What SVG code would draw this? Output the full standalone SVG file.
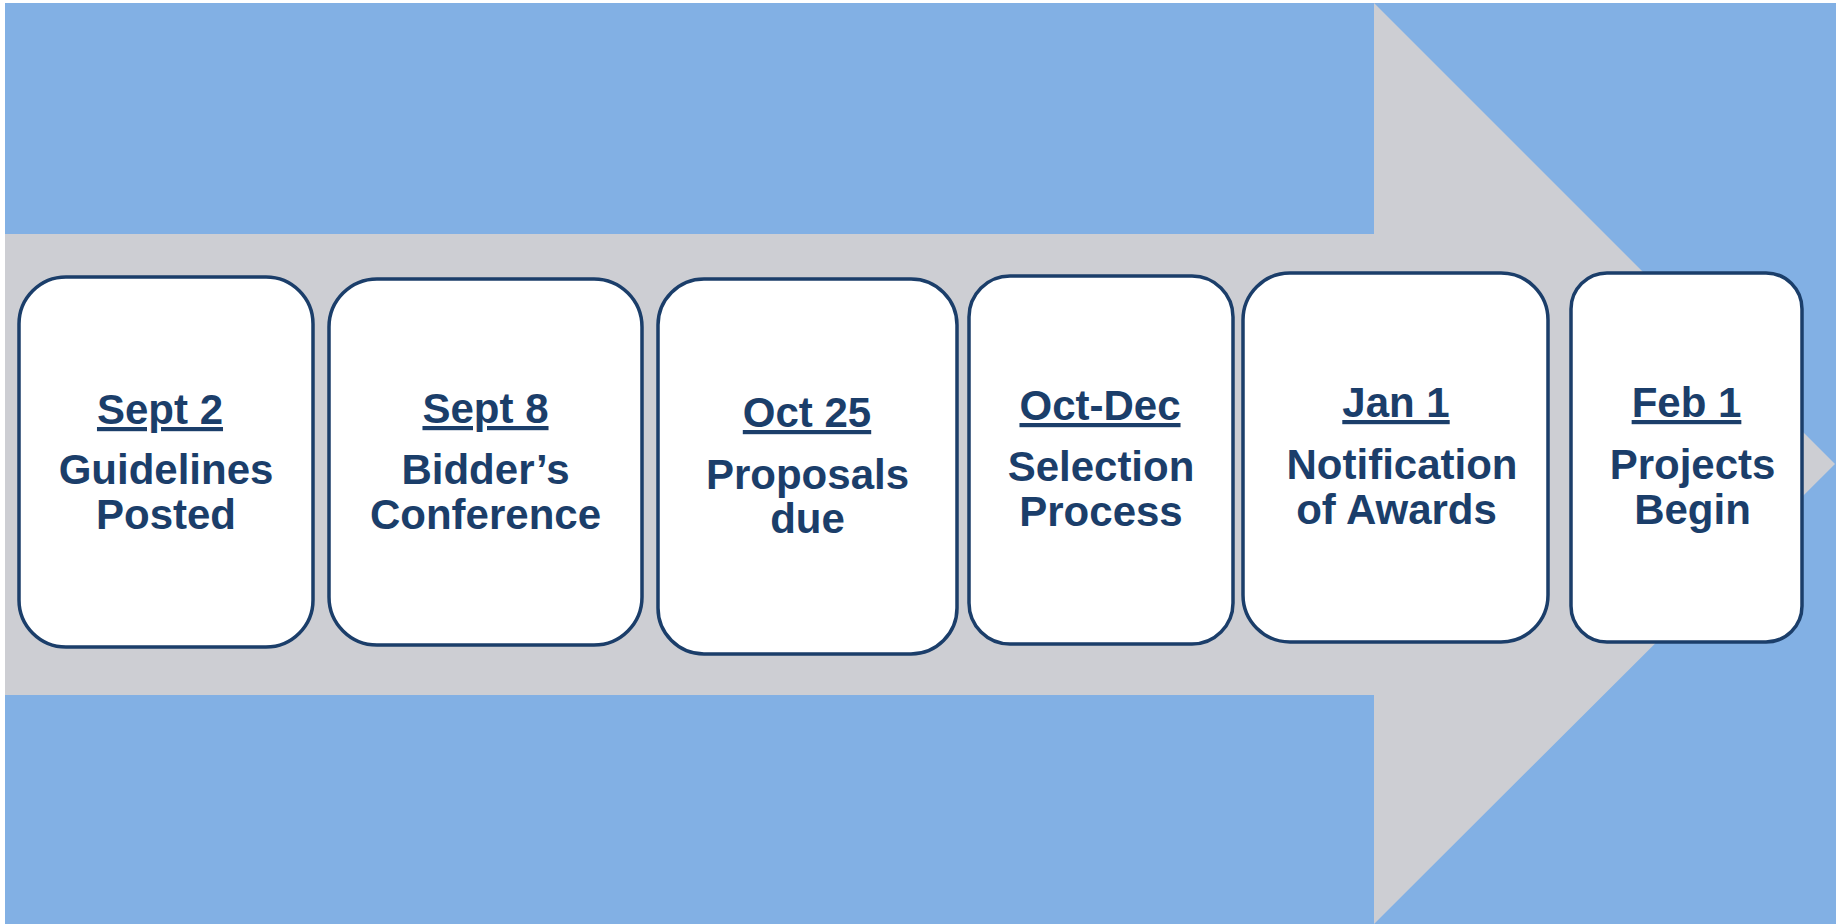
<svg xmlns="http://www.w3.org/2000/svg" width="1841" height="924" viewBox="0 0 1841 924">
<style>
.box{fill:#ffffff;stroke:#1b3e6a;stroke-width:3.5}
.t{font-family:"Liberation Sans",Arial,sans-serif;font-weight:bold;font-size:42px;fill:#1b3e6a;text-anchor:middle}
.d{text-decoration:underline}
</style>
<rect x="0" y="0" width="1841" height="924" fill="#ffffff"/>
<rect x="5" y="3" width="1831" height="921" fill="#82b0e4"/>
<polygon points="5,234 1374,234 1374,3 1835,464 1374,924 1374,695 5,695" fill="#cdced3"/>
<g id="connectors"></g>
<g id="n1">
<rect class="box" x="19" y="277" width="294" height="370" rx="47" ry="47"/>
<text class="t d" x="160" y="424">Sept 2</text>
<text class="t" x="166" y="484">Guidelines</text>
<text class="t" x="166" y="529">Posted</text>
</g>
<g id="n2">
<rect class="box" x="329" y="279" width="313" height="366" rx="48" ry="48"/>
<text class="t d" x="485.5" y="423">Sept 8</text>
<text class="t" x="485.5" y="484">Bidder’s</text>
<text class="t" x="485.5" y="529">Conference</text>
</g>
<g id="n3">
<rect class="box" x="658" y="279" width="299" height="375" rx="46" ry="46"/>
<text class="t d" x="807" y="427">Oct 25</text>
<text class="t" x="807.5" y="489">Proposals</text>
<text class="t" x="807.5" y="533">due</text>
</g>
<g id="n4">
<rect class="box" x="969" y="276" width="264" height="368" rx="41" ry="41"/>
<text class="t d" x="1100" y="420">Oct-Dec</text>
<text class="t" x="1101" y="481">Selection</text>
<text class="t" x="1101" y="526">Process</text>
</g>
<g id="n5">
<rect class="box" x="1243" y="273" width="305" height="369" rx="47" ry="47"/>
<text class="t d" x="1396" y="417">Jan 1</text>
<text class="t" x="1402" y="479">Notification</text>
<text class="t" x="1396.5" y="524">of Awards</text>
</g>
<g id="n6">
<rect class="box" x="1571" y="273" width="231" height="369" rx="36" ry="36"/>
<text class="t d" x="1686.5" y="417">Feb 1</text>
<text class="t" x="1692.5" y="479">Projects</text>
<text class="t" x="1692.5" y="524">Begin</text>
</g>
</svg>
